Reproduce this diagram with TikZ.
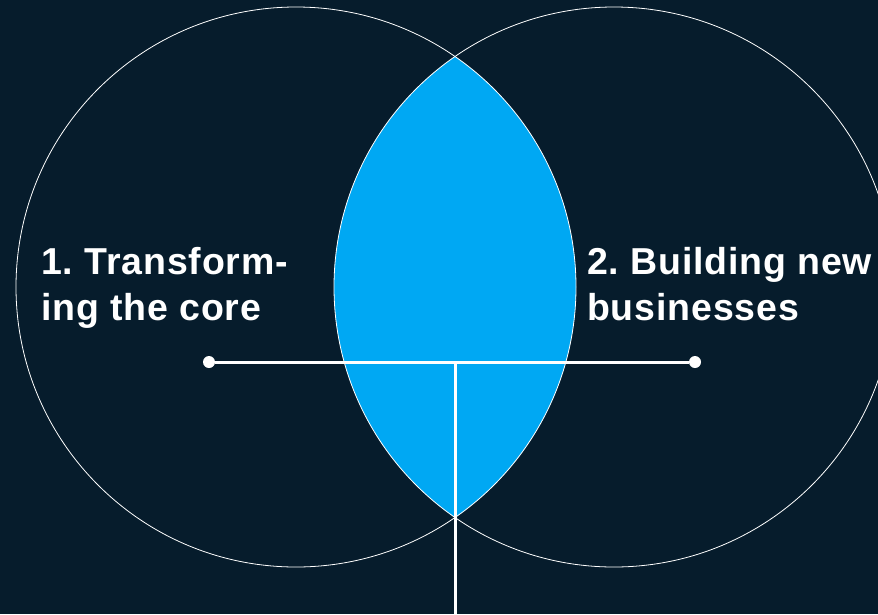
\documentclass[tikz,border=0pt]{standalone}
\usepackage{fontspec}
\setmainfont{Liberation Sans}
\newfontfamily\labelfont[LetterSpace=2.2]{Liberation Sans}
\frenchspacing
\usetikzlibrary{positioning}
\definecolor{navy}{HTML}{061C2C}
\definecolor{lensblue}{HTML}{00A8F3}

\begin{document}
\begin{tikzpicture}[x=1pt, y=-1pt,
        ring/.style={draw=white, line width=0.8pt},
        link/.style={draw=white, line width=3pt},
        dot/.style={circle, fill=white, inner sep=0pt, minimum size=12pt},
        label/.style={text=white, align=left, anchor=base west, inner sep=0pt,
            font=\labelfont\fontsize{37.5}{46}\selectfont\bfseries}]
        % background
        \fill[navy] (0,0) rectangle (878,614);
        \useasboundingbox (0,0) rectangle (878,614);
        % overlap of the two circles
        \begin{scope}
            \clip (296,287) circle (280);
            \fill[lensblue] (614,287) circle (280);
        \end{scope}
        \draw[ring] (296,287) circle (280);
        \draw[ring] (614,287) circle (280);
        % labels (base is the second line)
        \node[label] (core) at (41,320) {1. Transform-\\ing the core};
        \node[label] (new) at (587,320) {2. Building new\\businesses};
        % connectors
        \node[dot] (l) at (209,362) {};
        \node[dot] (r) at (695,362) {};
        \coordinate (mid) at (455,362);
        \coordinate (down) at (455,614);
        \draw[link] (l) -- (r);
        \draw[link] (mid) -- (down);
    \end{tikzpicture}
\end{document}
